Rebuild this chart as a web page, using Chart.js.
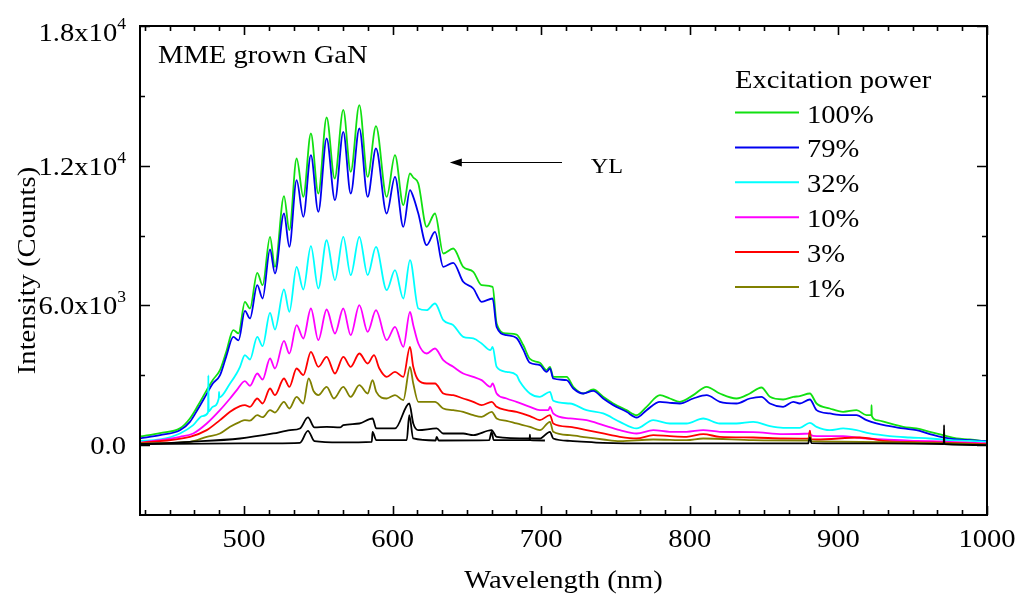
<!DOCTYPE html>
<html>
<head>
<meta charset="utf-8">
<script src="https://cdn.jsdelivr.net/npm/chart.js@4.4.1/dist/chart.umd.min.js"></script>
<style>
  html, body { margin: 0; padding: 0; background: #fff; }
  #wrap { width: 1019px; height: 599px; }
</style>
</head>
<body>
<div id="wrap"><canvas id="spec"></canvas></div>
<script>
// PL spectra: [wavelength nm, counts]
const p100 = [[430,370],[443.5,520],[456.9,720],[463.6,1145],[469,1700],[474.9,2362],[479,2800],[483.8,3220],[488,4000],[492.8,4940],[496.3,4800],[500.6,6155],[504,5868],[508.9,7400],[512.5,6870],[517.5,8946],[520.8,7657],[526.9,10692],[530.5,9232],[535.4,12310],[539.9,10663],[545,13383],[550,10806],[555.6,14070],[561,11450],[566.8,14400],[571.8,11737],[577.6,14600],[583.2,11522],[588.8,13698],[596,10663],[601.6,12453],[607.2,10306],[611.7,11665],[613.9,11494],[617.3,11236],[622.9,9375],[628.5,9948],[634.1,8230],[640.8,8445],[647.5,7658],[654.3,7443],[659.9,6870],[667.3,6799],[670,5224],[676.7,4795],[683.4,4750],[687.9,4300],[692.4,3700],[699.1,3535],[703.6,3220],[705.9,3364],[708.1,2934],[717.1,2934],[721.6,2505],[728.3,2218],[735,2390],[741.7,2075],[748.5,1789],[757.4,1503],[764.2,1288],[770.9,1646],[779.9,2147],[786.6,2003],[793.3,1861],[802.3,2147],[811.3,2505],[820.2,2218],[831.4,2003],[840.4,2218],[848.2,2476],[853.9,2075],[862.8,1961],[869.6,2075],[874,2104],[880.8,2218],[885.3,1789],[894.2,1574],[903.2,1431],[912.2,1503],[918.9,1288],[922.2,1288],[922.3,1718],[922.5,1250],[925.6,1074],[934.6,930],[943.6,787],[952.5,716],[961.5,573],[970.5,429],[979.4,286],[988.4,243],[1000,143]];
const p79 = [[430,290],[443.5,430],[456.9,640],[463.6,1000],[469,1550],[474.9,2200],[479,2650],[483.8,3000],[488,3800],[492.8,4650],[496.3,4500],[500.6,5768],[504,5440],[508.9,6870],[512.5,6298],[517.5,8402],[520.8,7371],[526.9,9948],[530.5,8517],[535.4,11379],[539.9,9805],[545,12453],[550,10020],[555.6,13168],[561.2,10520],[566.8,13455],[571.8,10806],[577.6,13598],[583.2,10663],[588.8,12739],[596,9948],[601.6,11522],[607.2,9375],[611.7,10950],[613.9,10663],[617.3,9948],[622.9,8588],[628.5,9160],[634.1,7658],[640.8,7830],[647.5,7014],[654.3,6727],[659.9,6155],[667.3,6298],[670,5081],[676.7,4723],[683.4,4600],[687.9,4100],[692.4,3535],[699.1,3435],[703.6,3149],[705.9,3292],[708.1,2862],[717.1,2791],[721.6,2433],[728.3,2218],[735,2333],[741.7,2003],[748.5,1718],[757.4,1431],[764.2,1188],[770.9,1503],[779.9,1861],[786.6,1818],[793.3,1789],[802.3,2003],[811.3,2147],[820.2,1861],[831.4,1789],[840.4,2003],[848.2,2075],[853.9,1789],[862.8,1646],[869.6,1861],[874,1789],[880.8,1961],[885.3,1503],[894.2,1360],[903.2,1288],[912.2,1288],[918.9,1074],[925.6,930],[934.6,816],[943.6,716],[952.5,644],[961.5,472],[970.5,329],[979.4,243],[988.4,215],[1000,172]];
const p32 = [[430,186],[443.5,243],[456.9,501],[465.8,859],[472,1250],[475.8,1400],[476,3000],[476.2,1450],[479,1650],[483,2003],[483.2,2290],[483.4,2050],[490.6,2648],[495,3077],[497.3,3364],[500.6,3865],[504,3678],[508.9,4652],[512.5,4251],[517.5,5683],[520.8,4966],[526.9,6684],[530.5,5726],[535.4,7658],[539.9,6684],[545,8545],[550,6727],[555.6,8800],[561.2,7085],[566.8,8946],[571.8,7300],[577.6,8946],[583.2,7300],[588.8,8517],[596,6656],[601.6,7515],[607.2,6298],[611.7,7944],[617.3,5868],[622.9,5797],[628.5,6083],[634.1,5368],[640.8,5153],[647.5,4652],[654.3,4580],[659.9,4366],[665.8,4079],[667.3,4222],[670,3364],[676.7,3149],[683.4,3006],[685.7,2719],[692.4,2218],[699.1,2075],[705.9,2290],[708.1,1904],[719.3,1789],[730.5,1503],[741.7,1360],[752.9,1002],[764.2,716],[775.4,1074],[786.6,930],[797.8,930],[809,1145],[820.2,930],[831.4,930],[842.7,1002],[853.9,816],[862.8,744],[874,744],[880.8,959],[885.3,787],[894.2,644],[903.2,716],[912.2,644],[921.1,501],[934.6,386],[948,329],[961.5,286],[975,215],[988.4,186],[1000,143]];
const p10 = [[430,100],[456.9,358],[465.8,501],[474.9,930],[483.8,1503],[490.6,2003],[495,2350],[500.6,2750],[504,2550],[508.9,3077],[512.5,2820],[517.5,3721],[520.8,3292],[526.9,4481],[530.5,3936],[535.4,5153],[539.9,4580],[545,5868],[550,4509],[555.6,5826],[561.2,4795],[566.8,5868],[571.8,4723],[577.6,6012],[583.2,4867],[588.8,5797],[596,4509],[601.6,5081],[607.2,4222],[611.7,5726],[613.9,5153],[617.3,4366],[622.9,3936],[628.5,4151],[634.1,3650],[640.8,3364],[647.5,3077],[654.3,2934],[659.9,2791],[665.8,2505],[667.3,2648],[670,2218],[676.7,2003],[683.4,1861],[692.4,1646],[699.1,1503],[704.8,1503],[705.9,1646],[708.1,1360],[719.3,1145],[730.5,1074],[741.7,859],[752.9,644],[764.2,501],[775.4,644],[786.6,573],[797.8,573],[809,644],[820.2,573],[842.7,560],[862.8,472],[880.5,500],[880.8,620],[881.2,450],[885.3,386],[903.2,386],[912.2,329],[930,243],[952.5,186],[975,143],[1000,72]];
const p3 = [[430,100],[463.6,358],[474.9,644],[483.8,1074],[490.6,1431],[497.3,1675],[500.6,1718],[504,1646],[508.9,2003],[512.5,1789],[517.5,2433],[520.8,2147],[526.9,2862],[530.5,2505],[535.4,3292],[539.9,3006],[545,4008],[550,3364],[555.6,3793],[561.2,3077],[566.8,3793],[571.8,3364],[577.6,3936],[583.2,3507],[587.5,3865],[591,3300],[596,2934],[601.6,3149],[607.2,2934],[611.7,4222],[613.9,3364],[617.3,2791],[622.9,2648],[628.5,2648],[634.1,2218],[640.8,2147],[647.5,2003],[654.3,1861],[659.9,1718],[666.7,1861],[670,1646],[676.7,1503],[683.4,1431],[692.4,1250],[699.1,1074],[705.9,1288],[708.1,930],[719.3,787],[730.5,644],[741.7,501],[752.9,358],[764.2,286],[775.4,429],[786.6,386],[797.8,358],[809,472],[820.2,358],[842.7,329],[862.8,286],[879.8,280],[880.8,616],[881.6,260],[885.3,243],[914.4,329],[930,186],[952.5,129],[975,100],[1000,43]];
const p1 = [[430,72],[463.6,143],[474.9,358],[483.8,501],[490.6,788],[497.3,1002],[500.6,1074],[504,1050],[508.9,1288],[512.5,1200],[517.5,1503],[520.8,1400],[526.9,1861],[530.5,1574],[535.4,2075],[539.9,1789],[543.5,2862],[547,2300],[550,2147],[555.6,2505],[560.5,2003],[566.8,2505],[571.8,2075],[577.6,2576],[583.2,2218],[586.5,2791],[589,2290],[596,2003],[601.6,2147],[607.2,1932],[611.7,3364],[613.9,2648],[617.3,1861],[622.9,1861],[628.5,1861],[634.1,1574],[640.8,1503],[647.5,1431],[654.3,1288],[659.9,1217],[666.7,1431],[670,1145],[676.7,1045],[683.4,930],[692.4,788],[699.1,644],[705.9,1002],[708.1,573],[719.3,429],[730.5,329],[741.7,243],[752.9,172],[775.4,243],[797.8,215],[809,286],[842.7,215],[879.6,200],[880.8,429],[881.8,170],[885.3,158],[930,129],[975,72],[1000,14]];
// two unlabelled black traces
const pBlackA = [[430,43],[463.6,143],[497.3,286],[519.7,501],[531,644],[537.6,716],[543,1189],[547.4,759],[555.6,788],[564.6,759],[566.8,859],[577.6,930],[586.5,1145],[589,716],[601.6,716],[611.2,1789],[613.9,930],[617.3,644],[629.6,716],[634.1,501],[647.5,501],[654.3,429],[666.6,644],[670,358],[692.4,286],[699.1,286],[705.9,573],[708.1,286],[719.3,186],[741.7,100],[775.4,72],[842.7,72],[879.6,72],[880.8,329],[881.8,90],[930,72],[970.9,50],[971.1,859],[971.3,50],[1000,0]];
const pBlackB = [[430,43],[497.3,72],[537.6,100],[543,616],[547.4,172],[564.6,115],[586,143],[586.5,573],[589,215],[609.5,215],[611.2,1288],[613.9,286],[629,200],[629.6,358],[631,200],[665,215],[666.6,573],[668,215],[692.2,215],[692.4,450],[692.6,215],[702.5,200]];

const powerLabels = ['100%', '79%', '32%', '10%', '3%', '1%'];
const powerColors = ['#11e011', '#0000f0', '#00ffff', '#ff00ff', '#ff0000', '#808000'];

const xMajorTicks = [500, 600, 700, 800, 900, 1000];
const yMajorTicks = [0, 6000, 12000, 18000];
const yMinorTicks = [3000, 9000, 15000];
const yTickText = [['0.0', ''], ['6.0x10', '3'], ['1.2x10', '4'], ['1.8x10', '4']];

const FONT = '"Liberation Serif", "Times New Roman", serif';
const stretch = 1.1;

function txt(ctx, s, x, y, size, align) {
  ctx.font = size + 'px ' + FONT;
  const w = ctx.measureText(s).width * stretch;
  const left = align === 'center' ? x - w / 2 : align === 'right' ? x - w : x;
  ctx.save();
  ctx.translate(left, y);
  ctx.scale(stretch, 1);
  ctx.textAlign = 'left';
  ctx.textBaseline = 'alphabetic';
  ctx.fillText(s, 0, 0);
  ctx.restore();
  return w;
}

const decor = {
  id: 'decor',
  afterDraw(chart) {
    const { ctx, chartArea: a, scales: { x, y } } = chart;
    ctx.save();
    ctx.fillStyle = '#000';
    ctx.strokeStyle = '#000';

    // frame
    ctx.lineWidth = 2;
    ctx.strokeRect(a.left, a.top, a.right - a.left, a.bottom - a.top);

    // inward ticks on all four sides
    ctx.lineWidth = 1.6;
    ctx.beginPath();
    const minorStep = 100 / 6;
    for (let v = 500 - 4 * minorStep; v < 1000.01; v += minorStep) {
      const px = Math.round(x.getPixelForValue(v)) + 0.5;
      const major = Math.abs(v / 100 - Math.round(v / 100)) < 0.01;
      const len = major ? 9 : 5;
      ctx.moveTo(px, a.bottom); ctx.lineTo(px, a.bottom - len);
      ctx.moveTo(px, a.top); ctx.lineTo(px, a.top + len);
    }
    yMajorTicks.concat(yMinorTicks).forEach(v => {
      const py = Math.round(y.getPixelForValue(v)) + 0.5;
      const len = yMajorTicks.includes(v) ? 10 : 5;
      ctx.moveTo(a.left, py); ctx.lineTo(a.left + len, py);
      ctx.moveTo(a.right, py); ctx.lineTo(a.right - len, py);
    });
    ctx.stroke();

    // tick labels
    xMajorTicks.forEach(v => txt(ctx, String(v), x.getPixelForValue(v), 547, 26, 'center'));
    yMajorTicks.forEach((v, i) => {
      const [base, exp] = yTickText[i];
      const cy = Math.max(y.getPixelForValue(v), a.top + 6);
      const right = 126;
      ctx.font = '16px ' + FONT;
      const ew = exp ? ctx.measureText(exp).width * stretch : 0;
      txt(ctx, base, right - ew, cy + 9, 26, 'right');
      if (exp) txt(ctx, exp, right - ew, cy - 3, 16, 'left');
    });

    // axis titles
    txt(ctx, 'Wavelength (nm)', (a.left + a.right) / 2, 588, 26, 'center');
    ctx.save();
    ctx.translate(35, (a.top + a.bottom) / 2);
    ctx.rotate(-Math.PI / 2);
    txt(ctx, 'Intensity (Counts)', 0, 0, 26, 'center');
    ctx.restore();

    // sample label
    txt(ctx, 'MME grown GaN', a.left + 18, 63, 26, 'left');

    // YL arrow
    const ax0 = x.getPixelForValue(714), ax1 = x.getPixelForValue(638.5);
    const ay = Math.round(y.getPixelForValue(12150)) + 0.5;
    ctx.lineWidth = 1.2;
    ctx.beginPath();
    ctx.moveTo(ax0, ay); ctx.lineTo(ax1 + 8, ay);
    ctx.stroke();
    ctx.beginPath();
    ctx.moveTo(ax1, ay); ctx.lineTo(ax1 + 12, ay - 4); ctx.lineTo(ax1 + 12, ay + 4);
    ctx.closePath(); ctx.fill();
    txt(ctx, 'YL', x.getPixelForValue(733.4), y.getPixelForValue(11690), 22, 'left');

    // legend
    const lx = 735;
    txt(ctx, 'Excitation power', lx, 88, 26, 'left');
    chart.data.datasets.slice(0, powerLabels.length).forEach((ds, i) => {
      const ly = 112.5 + i * 34.9;
      ctx.strokeStyle = ds.borderColor;
      ctx.lineWidth = 2;
      ctx.beginPath();
      ctx.moveTo(lx, ly); ctx.lineTo(lx + 64, ly);
      ctx.stroke();
      txt(ctx, ds.label, lx + 72, ly + 10, 26, 'left');
    });
    ctx.restore();
  }
};

const toXY = arr => arr.map(([x, y]) => ({ x, y }));
const series = [p100, p79, p32, p10, p3, p1];

const datasets = series.map((s, i) => ({
  label: powerLabels[i],
  data: toXY(s),
  borderColor: powerColors[i],
  order: 7 - i
}));
datasets.push({ label: '', data: toXY(pBlackA), borderColor: '#000000', order: 0 });
datasets.push({ label: '', data: toXY(pBlackB), borderColor: '#000000', order: 0 });

new Chart(document.getElementById('spec'), {
  type: 'line',
  plugins: [decor],
  data: { datasets },
  options: {
    responsive: true,
    maintainAspectRatio: false,
    animation: false,
    layout: { padding: { left: 140, top: 26, right: 32, bottom: 84 } },
    elements: {
      point: { radius: 0 },
      line: { borderWidth: 1.8, cubicInterpolationMode: 'monotone', fill: false }
    },
    scales: {
      x: { type: 'linear', min: 430, max: 1000, display: false },
      y: { type: 'linear', min: -3000, max: 18000, display: false }
    },
    plugins: {
      legend: { display: false },
      tooltip: { enabled: false }
    }
  }
});
</script>
</body>
</html>
